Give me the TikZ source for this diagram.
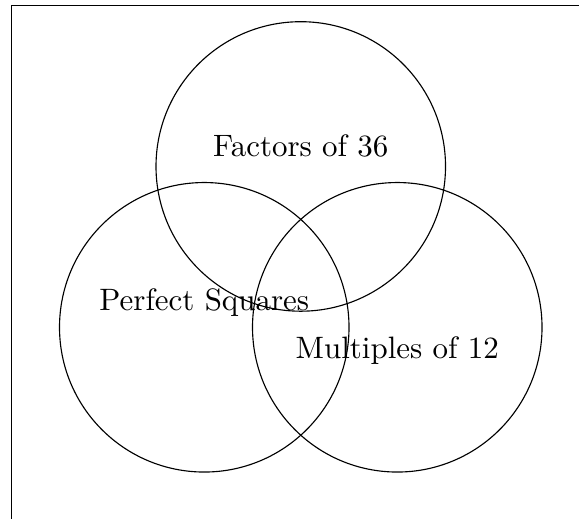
\documentclass[tikz,border=0pt]{standalone}
\usepackage{tikz}
\usetikzlibrary{positioning}

\begin{document}
\begin{tikzpicture}[
  setcircle/.style={
    draw=black, line width=0.4pt
  },
  setlabel/.style={
    font=\fontsize{10.95}{13.6}\selectfont, inner sep=2pt
  }
]

%% Circle centres and radius
\def\rad{1.8}
\def\xL{-1.2}
\def\xR{1.2}
\def\yT{2}

%% === PAGE AREA AND FRAME ===
\clip (-3.74, -2.38) rectangle (3.46, 4.07);
\draw[line width=0.5pt] (-3.6, -3) rectangle (4, 4);

%% === THE THREE SETS ===
\draw[setcircle] (0, \yT) circle (\rad);
\draw[setcircle] (\xL, 0) circle (\rad);
\draw[setcircle] (\xR, 0) circle (\rad);

%% === LABELS ===
\node[setlabel] (factors)   at (0, 2.26)    {Factors of 36};
\node[setlabel] (squares)   at (\xL, 0.31)  {Perfect Squares};
\node[setlabel] (multiples) at (\xR, -0.29) {Multiples of 12};

\end{tikzpicture}
\end{document}
